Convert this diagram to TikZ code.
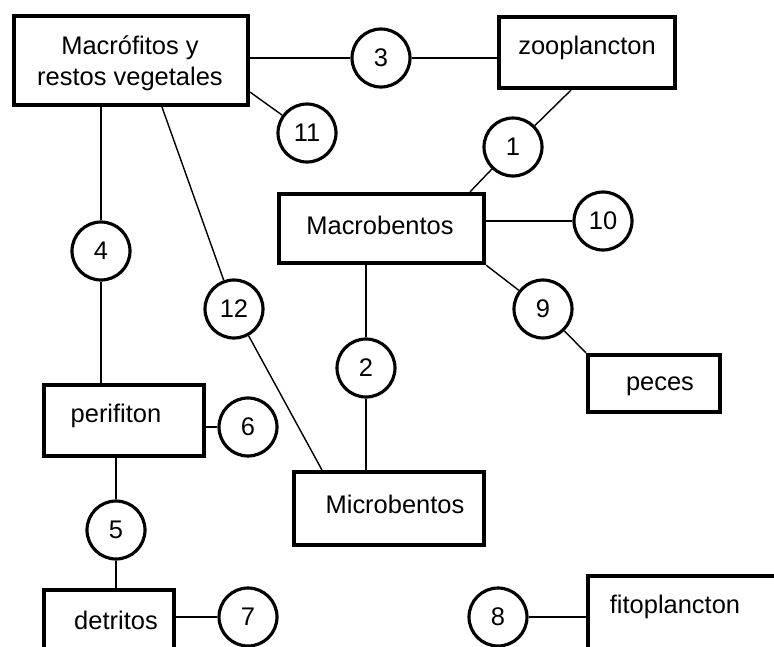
\documentclass[tikz,border=0pt]{standalone}
\usepackage{fontspec}
\setmainfont{Liberation Sans}
\usetikzlibrary{calc}

\begin{document}
\begin{tikzpicture}[x=0.02cm,y=-0.02cm,
    box/.style={draw,line width=2.4pt,inner sep=0pt},
    num/.style={draw,circle,line width=1.8pt,minimum size=1.16cm,inner sep=0pt},
    link/.style={line width=0.8pt},
    every node/.style={font=\fontsize{14.5}{17.5}\selectfont}]
    \useasboundingbox (0,0) rectangle (774,646);
    \clip (0,0) rectangle (774,646);
    % boxes
    \node[box,minimum width=4.68cm,minimum height=1.78cm] (macro) at (131,60.5) {};
    \node[box,minimum width=3.52cm,minimum height=1.42cm] (zoo) at (587,52.5) {};
    \node[box,minimum width=4.10cm,minimum height=1.38cm] (macb) at (381.5,228.5) {};
    \node[box,minimum width=2.64cm,minimum height=1.14cm] (peces) at (654,383.5) {};
    \node[box,minimum width=3.80cm,minimum height=1.46cm] (micro) at (389,508.5) {};
    \node[box,minimum width=3.20cm,minimum height=1.42cm] (peri) at (124,420.5) {};
    \node[box,minimum width=2.60cm,minimum height=1.32cm] (detr) at (109,623) {};
    \node[box,minimum width=4.20cm,minimum height=1.52cm] (fito) at (693,614) {};
    % texts
    \node[align=center] (macro-t) at (130,63) {Macrófitos y\\restos vegetales};
    \node (zoo-t) at (587,48) {zooplancton};
    \node (macb-t) at (380,225) {Macrobentos};
    \node (peces-t) at (660,386) {peces};
    \node (micro-t) at (395,504) {Microbentos};
    \node (peri-t) at (116,416) {perifiton};
    \node (detr-t) at (116,620) {detritos};
    \node (fito-t) at (675,607) {fitoplancton};
    % circles
    \node[num] (c1) at (513,147) {1};
    \node[num] (c2) at (366,368) {2};
    \node[num] (c3) at (381,58) {3};
    \node[num] (c4) at (101,251) {4};
    \node[num] (c5) at (116,530) {5};
    \node[num] (c6) at (248,427) {6};
    \node[num] (c7) at (248,617) {7};
    \node[num] (c8) at (498,617) {8};
    \node[num] (c9) at (543,309) {9};
    \node[num] (c10) at (603,221) {10};
    \node[num] (c11) at (307,133) {11};
    \node[num] (c12) at (234,309) {12};
    % links
    \draw[link] (macro.east |- c3) -- (c3);
    \draw[link] (c3) -- (zoo.west |- c3);
    \draw[link] ([yshift=0.3cm]macro.south east) -- (c11);
    \draw[link] ([xshift=-0.32cm]zoo.south) -- (c1);
    \draw[link] (c1) -- ([xshift=1.77cm]macb.north);
    \draw[link] (macb.east |- c10) -- (c10);
    \draw[link] (macb.south east) -- (c9);
    \draw[link] (c9) -- (peces.north west);
    \draw[link] (macb.south -| c2) -- (c2);
    \draw[link] (c2) -- (micro.north -| c2);
    \draw[link] ([xshift=0.62cm]macro.south) -- (c12);
    \draw[link] (c12) -- ([xshift=0.6cm]micro.north west);
    \draw[link] (macro.south -| c4) -- (c4);
    \draw[link] (c4) -- (peri.north -| c4);
    \draw[link] (peri.east |- c6) -- (c6);
    \draw[link] (peri.south -| c5) -- (c5);
    \draw[link] (c5) -- (detr.north -| c5);
    \draw[link] (detr.east |- c7) -- (c7);
    \draw[link] (c8) -- (fito.west |- c8);
\end{tikzpicture}
\end{document}
